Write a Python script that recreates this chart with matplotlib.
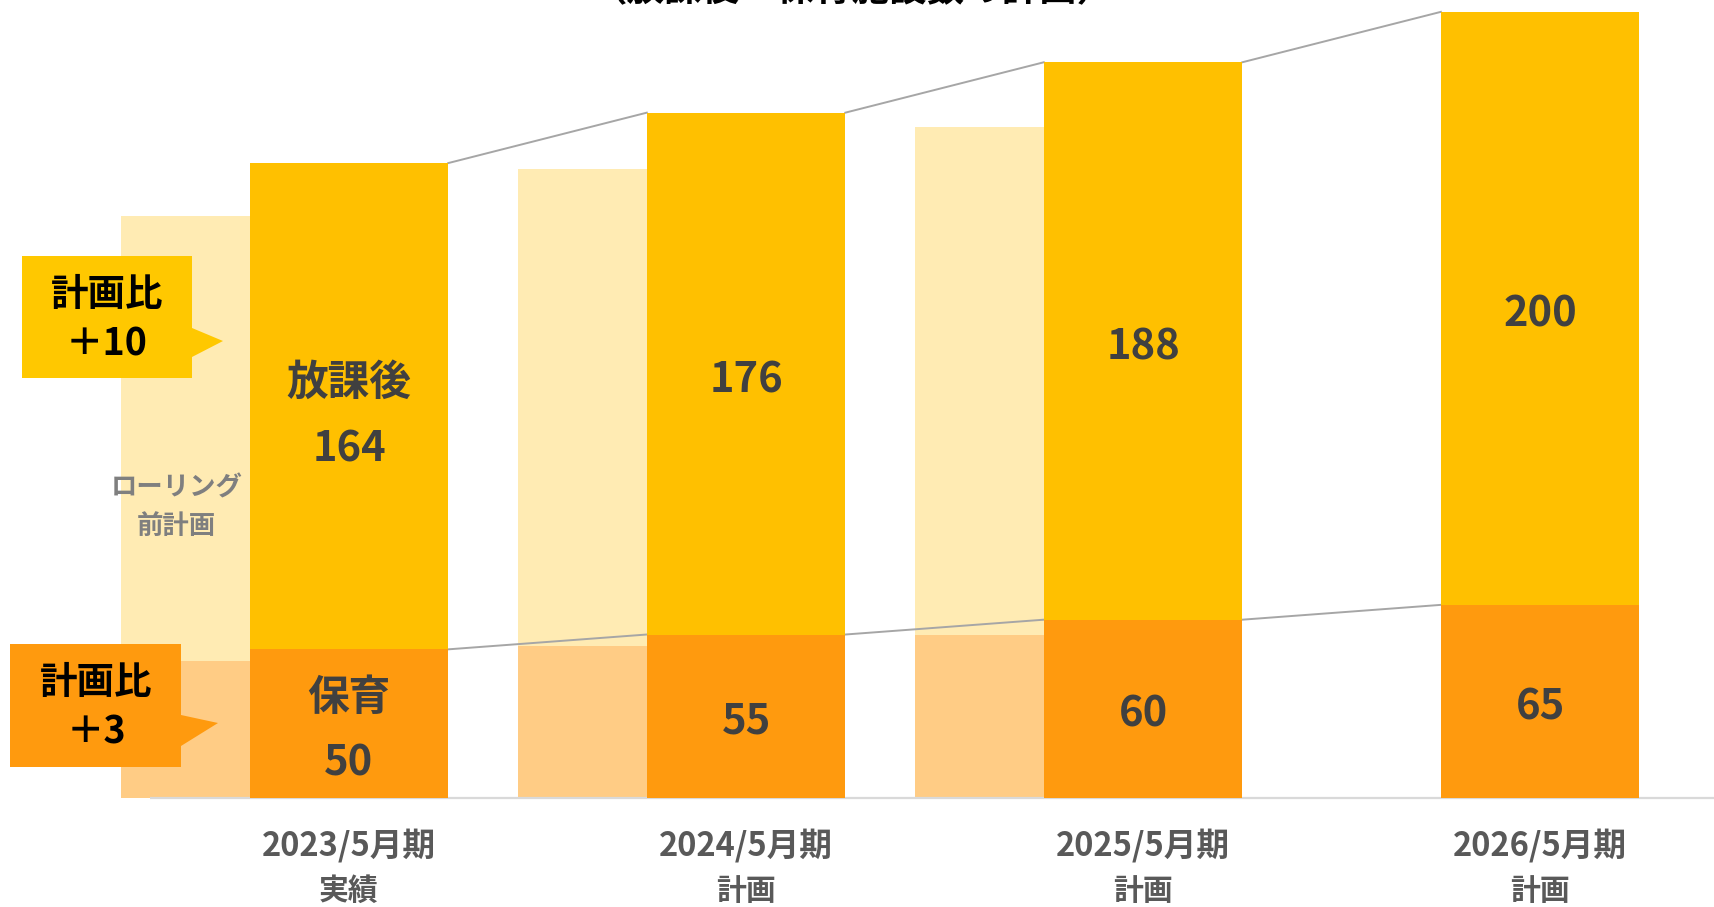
import matplotlib
matplotlib.use('Agg')
import matplotlib.pyplot as plt
from matplotlib.patches import Polygon

plt.rcParams['font.family'] = ['Noto Sans CJK JP', 'DejaVu Sans']
plt.rcParams['font.weight'] = 'bold'

# data
periods = ['2023/5月期', '2024/5月期', '2025/5月期', '2026/5月期']
status = ['実績', '計画', '計画', '計画']
hoiku = [50, 55, 60, 65]            # 保育
houkago = [164, 176, 188, 200]      # 放課後
prev_hoiku = [46, 51, 55]           # ローリング前計画
prev_houkago = [150, 161, 171]
callout_text = ['計画比\n＋10', '計画比\n＋3']

YELLOW = '#FFC000'
ORANGE = '#FF9A0E'
PALE_YELLOW = '#FFEBB3'
PALE_ORANGE = '#FFCC85'
LINE = '#A6A6A6'
DARK = '#404040'

fig = plt.figure(figsize=(17.14, 9.07), dpi=100)
ax = fig.add_axes([0, 0, 1, 1])
ax.set_xlim(-0.879, 3.438)
ax.set_ylim(-36.9, 269.0)
ax.axis('off')

x = list(range(len(periods)))
w = 0.5

# ghost bars (plan before rolling)
gx = [i - 0.575 for i in range(len(prev_hoiku))]
ax.bar(gx, prev_hoiku, width=0.33, align='edge', color=PALE_ORANGE, zorder=1)
ax.bar(gx, prev_houkago, width=0.33, align='edge', bottom=prev_hoiku,
       color=PALE_YELLOW, zorder=1)

# baseline
ax.plot([-0.5, 3.438], [-0.3, -0.3], color='#D9D9D9', lw=1.6, zorder=2,
        solid_capstyle='butt')

# main bars
ax.bar(x, hoiku, width=w, color=ORANGE, zorder=3)
ax.bar(x, houkago, width=w, bottom=hoiku, color=YELLOW, zorder=3)

# connector lines
totals = [h + k for h, k in zip(hoiku, houkago)]
for i in range(len(x) - 1):
    ax.plot([i + w / 2, i + 1 - w / 2], [totals[i], totals[i + 1]],
            color=LINE, lw=1.4, zorder=2)
    ax.plot([i + w / 2, i + 1 - w / 2], [hoiku[i], hoiku[i + 1]],
            color=LINE, lw=1.4, zorder=2)

# value labels
for i in x:
    yc = hoiku[i] + houkago[i] / 2
    oc = hoiku[i] / 2
    if i == 0:
        ax.text(i, yc - 3.5, f'放課後\n{houkago[i]}', ha='center', va='center',
                fontsize=30, color=DARK, linespacing=1.75, zorder=4)
        ax.text(i, oc - 2.5, f'保育\n{hoiku[i]}', ha='center', va='center',
                fontsize=30, color=DARK, linespacing=1.7, zorder=4)
    else:
        ax.text(i, yc - 2.2, str(houkago[i]), ha='center', va='center',
                fontsize=30, color=DARK, zorder=4)
        ax.text(i, oc - 2.0, str(hoiku[i]), ha='center', va='center',
                fontsize=30, color=DARK, zorder=4)
    ax.text(i, -16.3, periods[i], ha='center', va='center', fontsize=23.5,
            color='#595959')
    ax.text(i, -31.6, status[i], ha='center', va='center', fontsize=21.5,
            color='#595959')

ax.text(-0.435, 98, 'ローリング\n前計画', ha='center', va='center', fontsize=19,
        color='#7F7F7F', linespacing=1.55, zorder=4)

# callouts (pixel overlay)
ov = fig.add_axes([0, 0, 1, 1])
ov.set_xlim(0, 1714)
ov.set_ylim(907, 0)
ov.axis('off')
ov.patch.set_alpha(0)
ov.add_patch(Polygon([(22, 256), (192, 256), (192, 328), (223, 341),
                      (192, 357), (192, 378), (22, 378)],
                     closed=True, color='#FFC800', lw=0, zorder=5))
ov.add_patch(Polygon([(10, 644), (181, 644), (181, 715), (218, 723),
                      (181, 746), (181, 767), (10, 767)],
                     closed=True, color=ORANGE, lw=0, zorder=5))
ov.text(107, 319, callout_text[0], ha='center', va='center', fontsize=27,
        color='black', linespacing=1.35, zorder=6)
ov.text(96, 707, callout_text[1], ha='center', va='center', fontsize=27,
        color='black', linespacing=1.35, zorder=6)

# title (clipped at top, as in the source)
fig.text(0.497, 1 - 9 / 907, '（放課後・保育施設数の計画）', ha='center',
         va='bottom', fontsize=27, color='black')

fig.savefig('out.png', dpi=100)
